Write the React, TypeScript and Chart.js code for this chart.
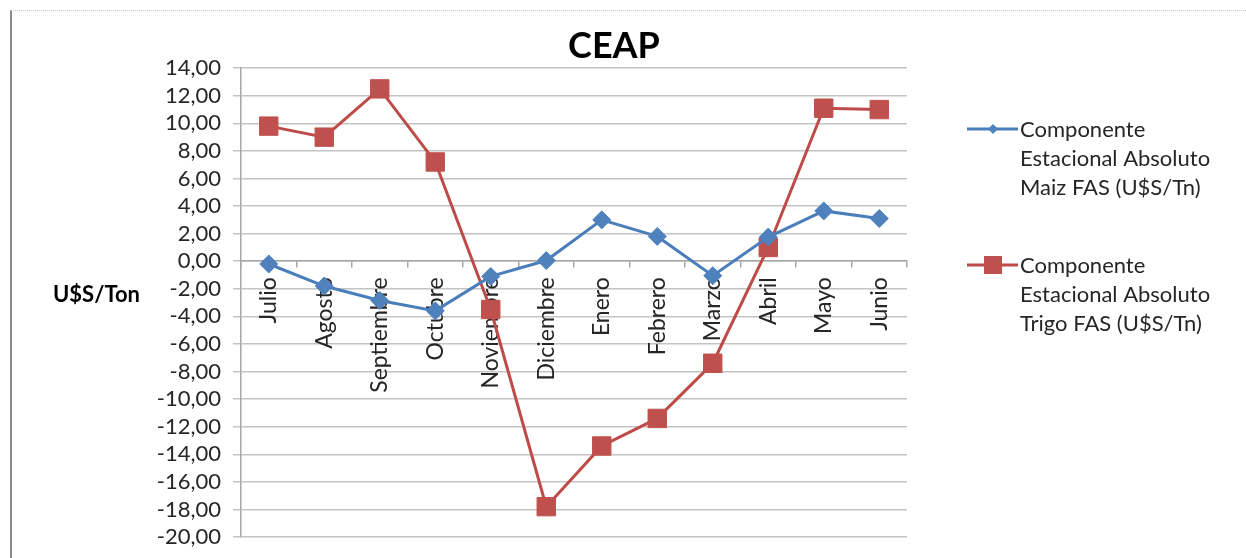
import { useEffect, useRef } from "react";
import { Chart, registerables } from "chart.js";

Chart.register(...registerables);

const categories = [
  "Julio",
  "Agosto",
  "Septiembre",
  "Octubre",
  "Noviembre",
  "Diciembre",
  "Enero",
  "Febrero",
  "Marzo",
  "Abril",
  "Mayo",
  "Junio",
];

const maizValues = [-0.2, -1.8, -2.85, -3.6, -1.1, 0.05, 3.0, 1.8, -1.05, 1.75, 3.65, 3.1];
const trigoValues = [9.8, 9.0, 12.5, 7.2, -3.5, -17.8, -13.4, -11.4, -7.4, 1.0, 11.1, 11.0];

const maizLabel = ["Componente", "Estacional Absoluto", "Maiz FAS (U$S/Tn)"];
const trigoLabel = ["Componente", "Estacional Absoluto", "Trigo FAS (U$S/Tn)"];

const titleText = "CEAP";
const yAxisTitle = "U$S/Ton";
const yMin = -20;
const yMax = 14;
const yStep = 2;

const BLUE_LINE = "#4A7EBB";
const BLUE_FILL = "#4F81BD";
const RED_LINE = "#BE4B48";
const RED_FILL = "#C0504D";
const FONT = "Lato, 'Open Sans', sans-serif";
const TEXT = "#262626";

const formatTick = (v: number) => v.toFixed(2).replace(".", ",");

const sidePlugin = {
  id: "sideDecor",
  afterDraw(chart: any) {
    const ctx = chart.ctx as CanvasRenderingContext2D;
    const area = chart.chartArea;
    ctx.save();
    // Y axis title (horizontal)
    ctx.font = `bold 22px ${FONT}`;
    ctx.fillStyle = "#000";
    ctx.textAlign = "left";
    ctx.textBaseline = "middle";
    ctx.fillText(yAxisTitle, 41, (area.top + area.bottom) / 2 - 8);

    // Legend
    const x0 = area.right + 60;
    const items = [
      { lines: maizLabel, y: 118, line: BLUE_LINE, fill: BLUE_FILL, style: "diamond" },
      { lines: trigoLabel, y: 254, line: RED_LINE, fill: RED_FILL, style: "square" },
    ];
    items.forEach((it) => {
      ctx.strokeStyle = it.line;
      ctx.lineWidth = 3;
      ctx.beginPath();
      ctx.moveTo(x0, it.y);
      ctx.lineTo(x0 + 51, it.y);
      ctx.stroke();
      const cx = x0 + 26;
      ctx.fillStyle = it.fill;
      ctx.beginPath();
      if (it.style === "diamond") {
        ctx.moveTo(cx, it.y - 5);
        ctx.lineTo(cx + 5, it.y);
        ctx.lineTo(cx, it.y + 5);
        ctx.lineTo(cx - 5, it.y);
        ctx.closePath();
      } else {
        ctx.rect(cx - 9, it.y - 9, 18, 18);
      }
      ctx.fill();
      ctx.fillStyle = TEXT;
      ctx.font = `22px ${FONT}`;
      ctx.textAlign = "left";
      ctx.textBaseline = "middle";
      it.lines.forEach((t, i) => {
        ctx.fillText(t, x0 + 53, it.y + 1 + i * 29);
      });
    });
    ctx.restore();
  },
};

export default function App() {
  const canvasRef = useRef<HTMLCanvasElement | null>(null);

  useEffect(() => {
    if (!canvasRef.current) return;
    const chart = new Chart(canvasRef.current, {
      type: "line",
      data: {
        labels: categories,
        datasets: [
          {
            label: maizLabel.join(" "),
            data: maizValues,
            borderColor: BLUE_LINE,
            backgroundColor: BLUE_FILL,
            borderWidth: 3,
            pointStyle: "rectRot",
            pointRadius: 9,
            pointBorderColor: BLUE_FILL,
            pointBackgroundColor: BLUE_FILL,
            pointBorderWidth: 1,
            tension: 0,
          },
          {
            label: trigoLabel.join(" "),
            data: trigoValues,
            borderColor: RED_LINE,
            backgroundColor: RED_FILL,
            borderWidth: 3,
            pointStyle: "rect",
            pointRadius: 13,
            pointBorderColor: RED_FILL,
            pointBackgroundColor: RED_FILL,
            pointBorderWidth: 1,
            tension: 0,
          },
        ],
      },
      options: {
        responsive: false,
        animation: false,
        layout: { padding: { top: 4, right: 30, bottom: 21, left: 0 } },
        plugins: {
          legend: { display: false },
          tooltip: { enabled: false },
          title: {
            display: true,
            text: titleText,
            color: "#000",
            font: { family: FONT, size: 36, weight: "bold" },
            padding: { top: 10, bottom: 0 },
          },
        },
        scales: {
          x: {
            type: "category",
            position: { y: 0 } as any,
            offset: true,
            z: 1,
            grid: {
              offset: true,
              drawOnChartArea: false,
              drawTicks: true,
              tickLength: 6,
              color: "#a6a6a6",
              lineWidth: 1.5,
            },
            border: { display: true, color: "#a6a6a6", width: 1.5 },
            ticks: {
              autoSkip: false,
              minRotation: 90,
              maxRotation: 90,
              padding: 10,
              color: TEXT,
              font: { family: FONT, size: 23 },
            },
          },
          y: {
            min: yMin,
            max: yMax,
            afterFit: (s: any) => {
              s.width = 229;
              s.paddingTop = 0;
              s.paddingBottom = 0;
            },
            ticks: {
              stepSize: yStep,
              autoSkip: false,
              padding: 12,
              color: TEXT,
              font: { family: FONT, size: 22 },
              callback: (v: any) => formatTick(Number(v)),
            },
            grid: {
              color: "#c4c4c4",
              lineWidth: 1.5,
              tickLength: 8,
              drawTicks: true,
            },
            border: { display: true, color: "#a6a6a6", width: 1.5 },
          },
          spacer: {
            type: "linear",
            position: "right",
            display: true,
            grid: { display: false, drawTicks: false },
            border: { display: false },
            ticks: { display: false },
            afterFit: (s: any) => {
              s.width = 309;
              s.paddingTop = 0;
              s.paddingBottom = 0;
            },
          },
        },
      },
      plugins: [sidePlugin],
    });
    return () => chart.destroy();
  }, []);

  return (
    <div
      style={{
        position: "fixed",
        left: 10,
        top: 10,
        width: 1236,
        height: 548,
        boxSizing: "border-box",
        borderLeft: "2px solid #8c8c8c",
        borderTop: "1px dotted #c8c8c8",
        background: "#fff",
      }}
    >
      <canvas ref={canvasRef} width={1234} height={547} style={{ display: "block" }} />
    </div>
  );
}
